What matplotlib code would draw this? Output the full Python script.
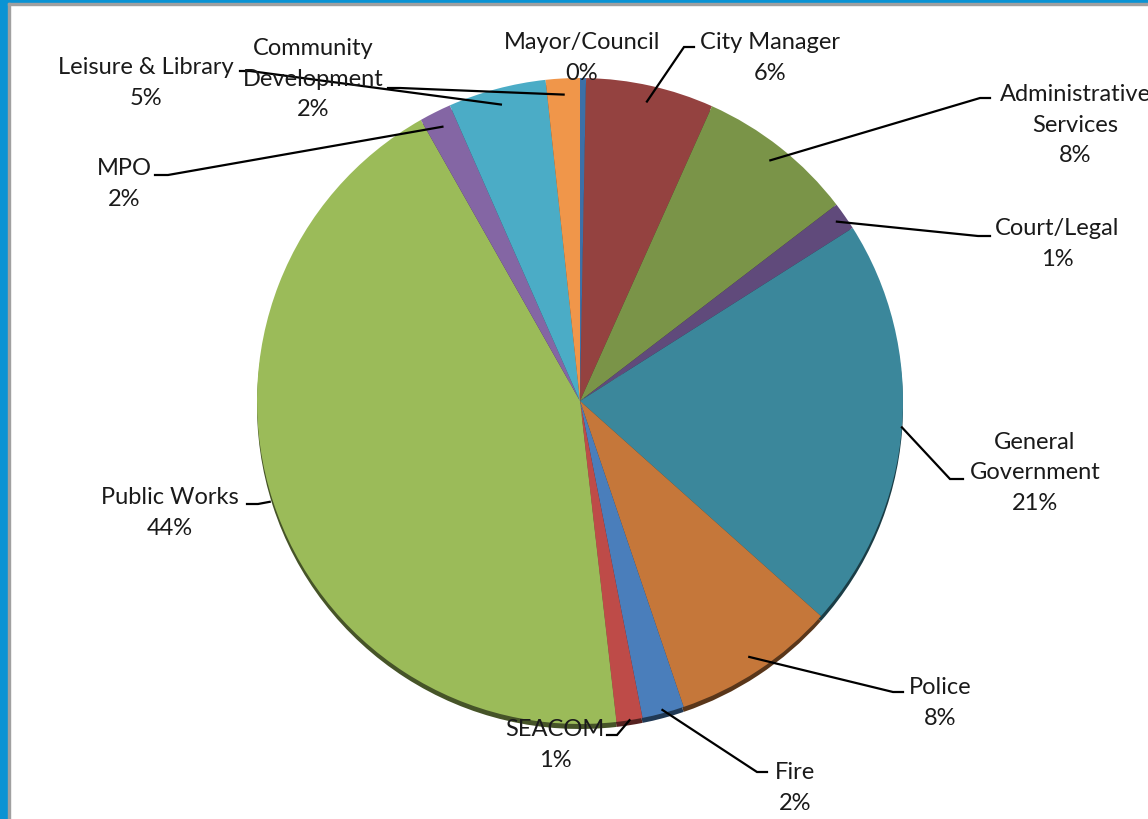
import matplotlib.pyplot as plt
import matplotlib.patches as mpatches
import matplotlib.colors as mcolors
import numpy as np

# department share of budget (percent), clockwise from the top
names = ['Mayor/Council', 'City Manager', 'Administrative\nServices', 'Court/Legal',
         'General\nGovernment', 'Police', 'Fire', 'SEACOM', 'Public Works', 'MPO',
         'Leisure & Library', 'Community\nDevelopment']
values = [0.3, 6.4, 7.9, 1.4, 20.6, 8.2, 2.1, 1.3, 43.6, 1.6, 4.9, 1.7]
colors = ['#3c70a8', '#944240', '#7a9448', '#604a7b', '#3b879b', '#c5773a',
          '#4a7ebb', '#be4b48', '#9bbb59', '#8466a4', '#4bacc6', '#f0964a']

W, H = 1148, 820
cx, cy, R = 580, 402, 323

# label layout in image pixels: text centre, elbow, tail of leader
lab_xy = [(582, 58), (770, 58), (1075, 125), (1057, 244), (1035, 473), (940, 703),
          (795, 788), (555, 745), (170, 513), (124, 184), (146, 83), (313, 79)]
elbow = [None, (684, 48), (980, 99), (978, 237), (950, 480), (893, 693),
         (757, 773), (617, 736), (258, 505), (168, 176), (250, 72), (400, 89)]
tail = [None, (694, 48), (990, 99), (990, 237), (963, 480), (903, 693),
        (767, 773), (607, 736), (247, 505), (155, 176), (240, 72), (388, 89)]
# how far out along the radius each leader starts
anchor_r = [0.95, 0.95, 0.95, 0.97, 1.0, 0.95, 0.99, 1.0, 1.01, 0.95, 0.95, 0.95]

fig = plt.figure(figsize=(W / 100, H / 100), dpi=100)
ax = fig.add_axes([0, 0, 1, 1])

def fy(y):
    return H - y

# shadow rim underneath
dark = [tuple(np.array(mcolors.to_rgb(c)) * 0.45) for c in colors]
ax.pie(values, colors=dark, startangle=90, counterclock=False,
       center=(cx, fy(cy) - 5), radius=R, wedgeprops=dict(linewidth=0))
ax.pie(values, colors=colors, startangle=90, counterclock=False,
       center=(cx, fy(cy)), radius=R, wedgeprops=dict(linewidth=0))

ax.set_xlim(0, W)
ax.set_ylim(0, H)
ax.set_aspect('auto')
ax.axis('off')

total = sum(values)
cum = np.cumsum([0] + values[:-1])
for i, (n, v) in enumerate(zip(names, values)):
    pct = round(v / total * 100)
    ax.text(lab_xy[i][0], fy(lab_xy[i][1]), f'{n}\n{pct}%', ha='center', va='center',
            fontsize=17, family='Lato', color='#1a1a1a', linespacing=1.58)
    if elbow[i] is None:
        continue
    t = np.deg2rad(360 * (cum[i] + v / 2) / total)
    rr = anchor_r[i] * R
    ax_, ay_ = cx + rr * np.sin(t), fy(cy) + rr * np.cos(t)
    ax.plot([ax_, elbow[i][0], tail[i][0]], [ay_, fy(elbow[i][1]), fy(tail[i][1])],
            color='black', lw=1.6, solid_joinstyle='miter')

# blue frame on the left and top
fig.patches.append(mpatches.Rectangle((0, 0), 8 / W, 1, transform=fig.transFigure,
                                      color='#0a93d4', zorder=10))
fig.patches.append(mpatches.Rectangle((0, 1 - 4 / H), 1, 4 / H, transform=fig.transFigure,
                                      color='#0a93d4', zorder=10))
fig.patches.append(mpatches.Rectangle((8 / W, 0), 1.5 / W, 1 - 4 / H, transform=fig.transFigure,
                                      color='#a0a0a0', zorder=10))
fig.patches.append(mpatches.Rectangle((8 / W, 1 - 5.5 / H), 1, 1.5 / H, transform=fig.transFigure,
                                      color='#a0a0a0', zorder=10))

fig.savefig('out.png', dpi=100)
